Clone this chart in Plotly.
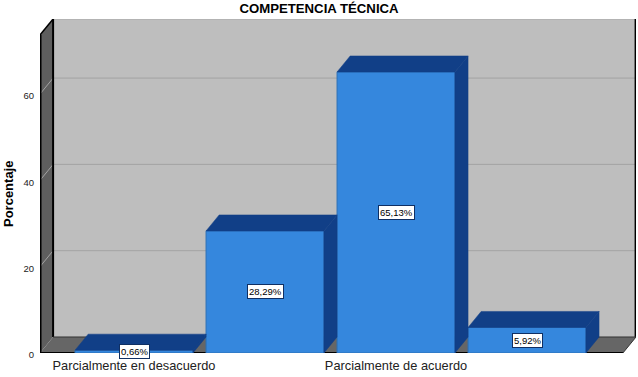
import plotly.graph_objects as go

# Data
categories = ["Parcialmente en desacuerdo", "", "Parcialmente de acuerdo", ""]
values = [0.66, 28.29, 65.13, 5.92]
y_ticks = [0, 20, 40, 60]
title_text = "COMPETENCIA TÉCNICA"
y_title = "Porcentaje"

# Style / geometry
FRONT, DARK, EDGE = "#3587DD", "#113F87", "#2C6FB5"
BACK, FLOOR, WALL, GRID = "#BEBEBE", "#666666", "#5E5E5E", "#A3A3A3"
BAR_W = 0.90
DX, DY = 0.1, 3.71
X0, X1 = -0.7176, 3.832
Y_MAX = 77.4
FX1 = X1 - DX          # right end of the front plane
FY1 = Y_MAX - DY       # top of the front plane

positions = list(range(len(values)))


def poly(points, color, line=None, width=0):
    path = "M" + " L".join(f"{x},{y}" for x, y in points) + " Z"
    return dict(type="path", path=path, xref="x", yref="y", layer="below",
                fillcolor=color, line=dict(color=line or color, width=width))


def seg(x0, y0, x1, y1, color, width):
    return dict(type="line", x0=x0, y0=y0, x1=x1, y1=y1, xref="x", yref="y",
                layer="below", line=dict(color=color, width=width))


shapes = [
    poly([(X0 + DX, DY), (X1, DY), (X1, Y_MAX), (X0 + DX, Y_MAX)], BACK),
    poly([(X0, 0), (X0 + DX, DY), (X0 + DX, Y_MAX), (X0, FY1)], WALL),
    poly([(X0, 0), (FX1, 0), (X1, DY), (X0 + DX, DY)], FLOOR),
]
for t in y_ticks[1:]:
    shapes.append(seg(X0, t, X0 + DX, t + DY, GRID, 1))
    shapes.append(seg(X0 + DX, t + DY, X1, t + DY, GRID, 1))
shapes += [
    seg(X0 + DX, Y_MAX, X1, Y_MAX, "#A8A8A8", 1),
    seg(X0 + 0.004, 0, X0 + 0.004, FY1, "#000000", 2),
    seg(X0 + DX, DY, X0 + DX, Y_MAX, "#000000", 2),
    seg(X0, FY1, X0 + DX, Y_MAX, "#000000", 1.5),
    seg(X1 - 0.005, DY, X1 - 0.005, Y_MAX, "#000000", 1.5),
    seg(X0 + DX, DY, X1, DY, "#333333", 1),
    seg(FX1, 0, X1, DY, "#333333", 1),
    seg(X0, 0, FX1, 0, "#000000", 2),
]

top_x, top_y, side_x, side_y = [], [], [], []
for p, v in zip(positions, values):
    l, r = p - BAR_W / 2, p + BAR_W / 2
    top_x += [l, l + DX, r + DX, r, l, None]
    top_y += [v, v + DY, v + DY, v, v, None]
    side_x += [r, r + DX, r + DX, r, r, None]
    side_y += [0, DY, v + DY, v, 0, None]

fig = go.Figure()
fig.add_bar(x=positions, y=values, width=BAR_W, marker=dict(color=FRONT, line=dict(color=EDGE, width=1)),
            hoverinfo="skip", showlegend=False)
for xs, ys in ((top_x, top_y), (side_x, side_y)):
    fig.add_scatter(x=xs, y=ys, mode="lines", fill="toself", fillcolor=DARK,
                    line=dict(color=DARK, width=0.5), hoverinfo="skip", showlegend=False)

annotations = [
    dict(x=p, y=v / 2, xref="x", yref="y", showarrow=False,
         text=f"{v:.2f}".replace(".", ",") + "%",
         font=dict(family="Liberation Sans", size=9.5, color="#000000"),
         bgcolor="#FFFFFF", bordercolor="#0F2F63", borderwidth=1, borderpad=1)
    for p, v in zip(positions, values)
]
annotations.append(dict(x=-0.0537, y=0.476, xref="paper", yref="paper", showarrow=False,
                        textangle=-90, xanchor="center", yanchor="middle",
                        text=f"<b>{y_title}</b>", font=dict(size=13, color="#000000")))

fig.update_layout(
    width=638, height=377, autosize=False,
    margin=dict(l=40, r=2, t=19, b=24),
    paper_bgcolor="#FFFFFF", plot_bgcolor="#FFFFFF",
    font=dict(family="Liberation Sans", color="#000000"),
    title=dict(text=f"<b>{title_text}</b>", x=0.5, xanchor="center", y=0.979, yanchor="middle",
               font=dict(size=13.2, color="#000000")),
    xaxis=dict(range=[X0, X1], tickmode="array",
               tickvals=[p for p, c in zip(positions, categories) if c],
               ticktext=[c for c in categories if c],
               showgrid=False, zeroline=False, showline=False, ticks="outside", ticklen=1,
               tickcolor="rgba(0,0,0,0)", tickfont=dict(size=12.8, color="#222222")),
    yaxis=dict(range=[0, Y_MAX], tickmode="array", tickvals=y_ticks,
               showgrid=False, zeroline=False, showline=False, ticks="outside", ticklen=3,
               ticklabelshift=2,
               tickcolor="rgba(0,0,0,0)", tickfont=dict(size=9.5, color="#222222")),
    shapes=shapes, annotations=annotations,
)
fig.write_html("out.html", config=dict(displayModeBar=False),
               post_script="document.body.style.margin='0';document.documentElement.style.overflow='hidden';")
